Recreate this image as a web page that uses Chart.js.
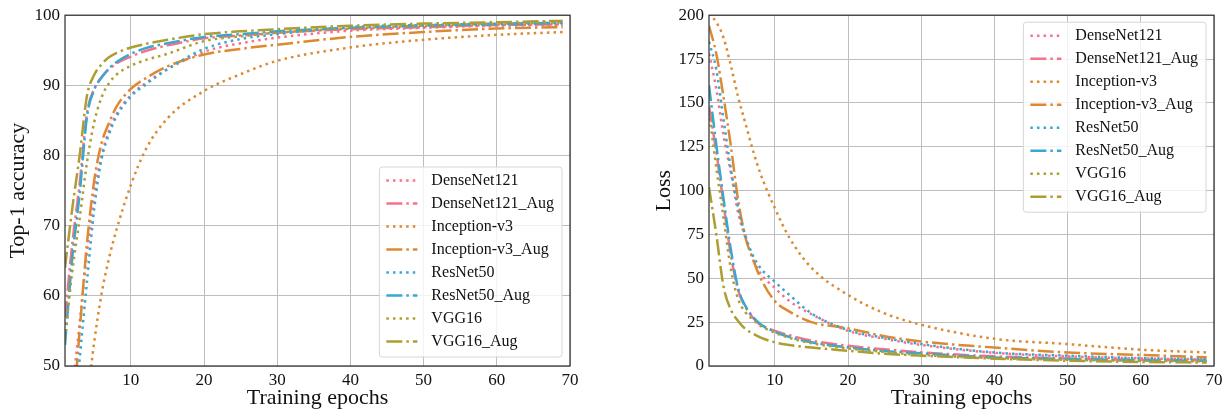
<!DOCTYPE html>
<html>
<head>
<meta charset="utf-8">
<script src="https://cdn.jsdelivr.net/npm/chart.js@4.4.1/dist/chart.umd.min.js"></script>
<style>
  body { margin: 0; background: #fff; }
  .panel { position: absolute; top: 0; width: 616px; height: 418px; }
</style>
</head>
<body>
<div class="panel" style="left:0"><canvas id="accChart" width="616" height="418"></canvas></div>
<div class="panel" style="left:616px"><canvas id="lossChart" width="616" height="418"></canvas></div>
<script>
const epochs = [1, 2, 3, 4, 5, 6, 7, 8, 10, 12, 15, 20, 25, 30, 40, 50, 60, 69];

const modelNames = ["DenseNet121", "DenseNet121_Aug", "Inception-v3", "Inception-v3_Aug",
  "ResNet50", "ResNet50_Aug", "VGG16", "VGG16_Aug"];

// top-1 accuracy
const densenetAcc     = [32, 46, 56, 66, 74.5, 80, 83.5, 85.8, 88.6, 90.3, 92.3, 94.8, 96.0, 96.8, 97.8, 98.2, 98.5, 98.6];
const densenetAugAcc  = [57, 67.5, 76, 86, 89.5, 91.2, 92.3, 93.1, 94.1, 94.9, 95.7, 96.7, 97.1, 97.5, 98.0, 98.3, 98.6, 98.7];
const inceptionAcc    = [20, 30, 38, 45, 53.5, 60.3, 65.3, 69.3, 75.8, 80.8, 85.3, 89.2, 91.6, 93.5, 95.4, 96.5, 97.2, 97.6];
const inceptionAugAcc = [30, 42, 55, 67.5, 76.5, 81.8, 84.6, 86.9, 89.5, 91.0, 92.7, 94.4, 95.2, 95.8, 96.9, 97.6, 98.1, 98.3];
const resnetAcc       = [30, 40, 51, 62, 72.5, 79.5, 83, 85.5, 88.4, 90.1, 92.3, 95.2, 96.6, 97.3, 98.3, 98.6, 98.8, 98.9];
const resnetAugAcc    = [53, 65.5, 74.5, 85.5, 89.4, 91.1, 92.4, 93.3, 94.5, 95.3, 96.0, 96.9, 97.3, 97.7, 98.2, 98.5, 98.7, 98.9];
const vggAcc          = [54, 63.5, 71, 79, 84.8, 88.3, 90.3, 91.5, 92.8, 93.6, 94.5, 96.3, 97.0, 97.5, 98.1, 98.5, 98.8, 99.0];
const vggAugAcc       = [64, 72.5, 80, 88.5, 91.5, 93, 94, 94.6, 95.4, 95.9, 96.5, 97.3, 97.7, 98.0, 98.5, 98.8, 99.0, 99.2];

// loss
const densenetLoss     = [178, 158, 131, 110, 87, 73, 61, 53, 44.5, 37, 29.5, 20, 15.5, 12, 7.5, 5.5, 4.3, 3.8];
const densenetAugLoss  = [148, 122, 92, 63, 43, 33.5, 27.5, 23.5, 20, 17.5, 14.5, 11.5, 9.5, 7.8, 5.5, 4.3, 3.5, 3.2];
const inceptionLoss    = [201, 196, 187, 171, 153, 138, 123, 110, 90, 73, 56, 40.5, 30, 23.5, 15.5, 12.5, 9.3, 7.7];
const inceptionAugLoss = [194, 178, 153, 125, 94, 73, 61, 50.5, 37, 31, 25, 21.5, 17, 14, 10.5, 7.7, 6.3, 5.0];
const resnetLoss       = [185, 169, 140, 112, 90, 74, 63, 56, 48, 40.5, 30, 20.5, 16, 12.5, 7.7, 5.9, 4.5, 4.0];
const resnetAugLoss    = [160, 126, 95, 66, 44, 34, 28, 24, 19.5, 16.5, 13.5, 10.6, 8.5, 7.2, 4.9, 4.0, 3.2, 3.0];
const vggLoss          = [145, 113, 84, 55, 38, 30.5, 26.5, 23, 19, 16, 13, 10, 8, 6.3, 4.5, 3.5, 3.0, 2.7];
const vggAugLoss       = [102, 75, 45, 32, 25.5, 21, 18.5, 16.3, 13.5, 12, 10.5, 8.7, 7, 5.9, 4.2, 3.0, 2.3, 2.0];

const xTicks = [10, 20, 30, 40, 50, 60, 70];
const accTicks = [50, 60, 70, 80, 90, 100];
const lossTicks = [0, 25, 50, 75, 100, 125, 150, 175, 200];

const colors = ["#f77189", "#f77189", "#dc8932", "#dc8932", "#39a7cf", "#39a7cf", "#ae9d31", "#ae9d31"];
const FONT = "'Liberation Serif', 'Times New Roman', serif";
const DOTTED = [2.5, 4.1];
const DASHDOT = [16, 4, 2.5, 4];

function buildDatasets(series) {
  return series.map((vals, i) => ({
    label: modelNames[i],
    data: epochs.map((e, j) => ({ x: e, y: vals[j] })),
    borderColor: colors[i],
    borderWidth: 2.5,
    borderDash: i % 2 === 0 ? DOTTED : DASHDOT,
    borderCapStyle: "butt",
    pointRadius: 0,
    fill: false,
    cubicInterpolationMode: "monotone",
    order: series.length - i,
  }));
}

// matplotlib style legend + full frame
const mplLegend = {
  id: "mplLegend",
  afterDatasetsDraw(chart, args, opts) {
    const ctx = chart.ctx;
    const area = chart.chartArea;
    ctx.save();
    ctx.setLineDash([]);
    ctx.strokeStyle = "#333";
    ctx.lineWidth = 1.25;
    ctx.strokeRect(area.left, area.top, area.right - area.left, area.bottom - area.top);

    const sets = chart.data.datasets;
    ctx.font = "16px " + FONT;
    const rowH = 23;
    const textW = Math.max(...sets.map((d) => ctx.measureText(d.label).width));
    const w = 52 + textW + 8;
    const h = rowH * sets.length + 6;
    const x = area.right - 8 - w;
    const y = opts.corner === "top" ? area.top + 7 : area.bottom - 9 - h;

    ctx.beginPath();
    ctx.roundRect(x, y, w, h, 3);
    ctx.fillStyle = "rgba(255,255,255,0.8)";
    ctx.fill();
    ctx.strokeStyle = "#d6d6d6";
    ctx.lineWidth = 1;
    ctx.stroke();

    ctx.textBaseline = "middle";
    ctx.textAlign = "left";
    sets.forEach((d, i) => {
      const cy = y + 2 + rowH * i + rowH / 2;
      ctx.beginPath();
      ctx.setLineDash(d.borderDash);
      ctx.strokeStyle = d.borderColor;
      ctx.lineWidth = 2.5;
      ctx.moveTo(x + 7, cy);
      ctx.lineTo(x + 38, cy);
      ctx.stroke();
      ctx.setLineDash([]);
      ctx.fillStyle = "#111";
      ctx.fillText(d.label, x + 52, cy);
    });
    ctx.restore();
  },
};

function makeChart(id, cfg) {
  const ctx = document.getElementById(id).getContext("2d");
  return new Chart(ctx, {
    type: "line",
    data: { datasets: buildDatasets(cfg.series) },
    options: {
      responsive: false,
      animation: false,
      devicePixelRatio: 1,
      layout: { padding: { top: 13, right: cfg.padRight, bottom: 0, left: 0 } },
      plugins: {
        legend: { display: false },
        tooltip: { enabled: false },
        mplLegend: { corner: cfg.corner },
      },
      scales: {
        x: {
          type: "linear",
          min: 1,
          max: 70,
          afterBuildTicks: (s) => { s.ticks = xTicks.map((v) => ({ value: v })); },
          afterFit: (s) => { s.height = 52; },
          ticks: { font: { family: FONT, size: 17 }, color: "#111", padding: 4, maxRotation: 0 },
          grid: { color: "#bdbdbd", lineWidth: 1, drawTicks: false },
          border: { display: false },
          title: {
            display: true,
            text: "Training epochs",
            font: { family: FONT, size: 22 },
            color: "#111",
            padding: { top: 0, bottom: 7 },
          },
        },
        y: {
          min: cfg.yMin,
          max: cfg.yMax,
          afterBuildTicks: (s) => { s.ticks = cfg.yTicks.map((v) => ({ value: v })); },
          afterFit: (s) => { s.width = cfg.axisWidth; },
          ticks: { font: { family: FONT, size: 17 }, color: "#111", padding: 5 },
          grid: { color: "#bdbdbd", lineWidth: 1, drawTicks: false },
          border: { display: false },
          title: {
            display: true,
            text: cfg.yLabel,
            font: { family: FONT, size: 22 },
            color: "#111",
            padding: { top: cfg.titlePad, bottom: 0 },
          },
        },
      },
    },
    plugins: [mplLegend],
  });
}

makeChart("accChart", {
  series: [densenetAcc, densenetAugAcc, inceptionAcc, inceptionAugAcc, resnetAcc, resnetAugAcc, vggAcc, vggAugAcc],
  yLabel: "Top-1 accuracy",
  yMin: 50, yMax: 100, yTicks: accTicks,
  axisWidth: 65, padRight: 46, titlePad: 5, corner: "bottom",
});

makeChart("lossChart", {
  series: [densenetLoss, densenetAugLoss, inceptionLoss, inceptionAugLoss, resnetLoss, resnetAugLoss, vggLoss, vggAugLoss],
  yLabel: "Loss",
  yMin: 0, yMax: 200, yTicks: lossTicks,
  axisWidth: 93, padRight: 18, titlePad: 35, corner: "top",
});
</script>
</body>
</html>
